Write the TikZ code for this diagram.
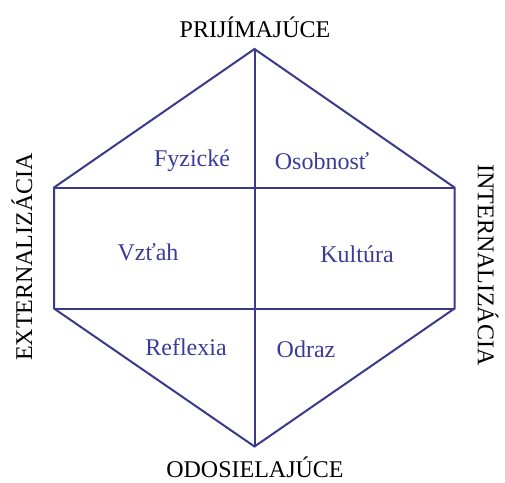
\documentclass[tikz,border=0pt]{standalone}
\usepackage{fontspec}
\setmainfont{Liberation Serif}
\definecolor{hexline}{HTML}{3A3A8C}
\definecolor{hextext}{HTML}{3B3B98}
\begin{document}
\begin{tikzpicture}[x=1pt,y=-1pt,
  edge/.style={draw=hexline,line width=2pt,line join=miter},
  inlabel/.style={text=hextext,font=\fontsize{24}{27}\selectfont,inner sep=0pt},
  outlabel/.style={text=black,font=\fontsize{24}{27}\selectfont,inner sep=0pt}]
\useasboundingbox (0,0) rectangle (505,482);
\coordinate (T) at (254.5,49);
\coordinate (B) at (254.5,446.5);
\coordinate (UL) at (54,187.5);
\coordinate (UR) at (454.5,187.5);
\coordinate (LL) at (54,308.5);
\coordinate (LR) at (454.5,308.5);
\draw[edge] (T) -- (UR) -- (LR) -- (B) -- (LL) -- (UL) -- cycle;
\draw[edge] (T) -- (B);
\draw[edge] (UL) -- (UR);
\draw[edge] (LL) -- (LR);
\node[inlabel] (fyz) at (192,161) {Fyzické};
\node[inlabel] (oso) at (322,161) {Osobnosť};
\node[inlabel] (vzt) at (148,252) {Vzťah};
\node[inlabel] (kul) at (357,254) {Kultúra};
\node[inlabel] (ref) at (186,347) {Reflexia};
\node[inlabel] (odr) at (306,349) {Odraz};
\node[outlabel] (top) at (255,27) {PRIJÍMAJÚCE};
\node[outlabel] (bot) at (255,467) {ODOSIELAJÚCE};
\node[outlabel,rotate=90] (ext) at (22,257) {EXTERNALIZÁCIA};
\node[outlabel,rotate=-90] (int) at (488,265) {INTERNALIZÁCIA};
\end{tikzpicture}
\end{document}
